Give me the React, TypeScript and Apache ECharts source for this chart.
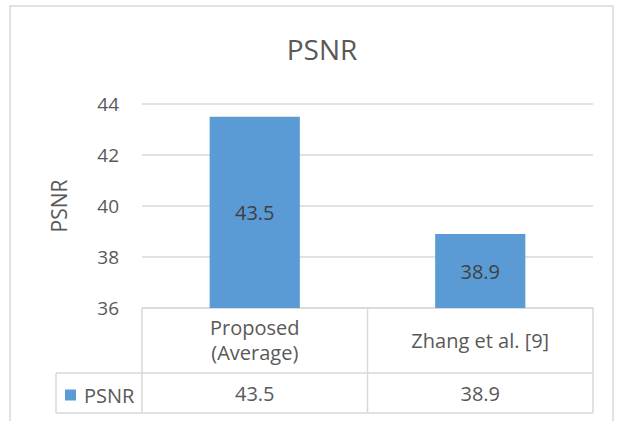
import React, { useEffect, useRef } from "react";
import * as echarts from "echarts";

const categories = ["Proposed\n(Average)", "Zhang et al. [9]"];
const seriesName = "PSNR";
const psnrValues = [43.5, 38.9];
const yTicks = [36, 38, 40, 42, 44];

const W = 622;
const H = 421;
const GRID_LEFT = 142;
const GRID_RIGHT_X = 593;
const GRID_TOP = 104;
const AXIS_Y = 308;
const ROW_Y = 373;
const TABLE_BOTTOM = 413;
const TABLE_LEFT = 56;
const FONT = "'Open Sans', 'Noto Sans', sans-serif";
const LINE = "#D9D9D9";
const TEXT = "#595959";

export default function App() {
  const ref = useRef<HTMLDivElement>(null);
  useEffect(() => {
    if (!ref.current) return;
    const chart = echarts.init(ref.current, undefined, { renderer: "svg", width: W, height: H });
    const colW = (GRID_RIGHT_X - GRID_LEFT) / categories.length;
    const tableLines: any[] = [];
    for (let i = 0; i <= categories.length; i++) {
      const x = GRID_LEFT + i * colW;
      tableLines.push({
        type: "line",
        shape: { x1: x, y1: AXIS_Y, x2: x, y2: TABLE_BOTTOM },
        style: { stroke: LINE, lineWidth: 1.5 },
      });
    }
    tableLines.push(
      { type: "line", shape: { x1: TABLE_LEFT, y1: ROW_Y, x2: GRID_RIGHT_X, y2: ROW_Y }, style: { stroke: LINE, lineWidth: 1.5 } },
      { type: "line", shape: { x1: TABLE_LEFT, y1: TABLE_BOTTOM, x2: GRID_RIGHT_X, y2: TABLE_BOTTOM }, style: { stroke: LINE, lineWidth: 1.5 } },
      { type: "line", shape: { x1: TABLE_LEFT, y1: ROW_Y, x2: TABLE_LEFT, y2: TABLE_BOTTOM }, style: { stroke: LINE, lineWidth: 1.5 } },
      { type: "rect", shape: { x: 10, y: 6, width: 603, height: 440 }, style: { fill: "none", stroke: LINE, lineWidth: 1.5 }, z: -1 }
    );
    chart.setOption({
      animation: false,
      backgroundColor: "#ffffff",
      title: {
        text: "PSNR",
        left: 317,
        top: 30,
        textAlign: "center",
        textStyle: { fontFamily: FONT, fontSize: 28, fontWeight: "normal", color: TEXT },
      },
      legend: {
        data: [seriesName],
        left: 60,
        top: 380,
        icon: "rect",
        itemWidth: 11,
        itemHeight: 11,
        itemGap: 0,
        textStyle: { fontFamily: FONT, fontSize: 20, color: TEXT, padding: [0, 0, 0, 3] },
      },
      grid: {
        left: GRID_LEFT,
        right: W - GRID_RIGHT_X,
        top: GRID_TOP,
        bottom: H - AXIS_Y,
        containLabel: false,
      },
      xAxis: [
        {
          type: "category",
          data: categories,
          axisLine: { show: true, lineStyle: { color: LINE, width: 1.5 } },
          axisTick: { show: false },
          axisLabel: {
            margin: 32,
            verticalAlign: "middle",
            fontFamily: FONT,
            fontSize: 20,
            lineHeight: 25,
            color: TEXT,
          },
        },
        {
          type: "category",
          position: "bottom",
          offset: ROW_Y - AXIS_Y,
          data: psnrValues.map((v) => v.toFixed(1)),
          axisLine: { show: false },
          axisTick: { show: false },
          axisLabel: {
            margin: 20,
            verticalAlign: "middle",
            fontFamily: FONT,
            fontSize: 20,
            color: TEXT,
          },
        },
      ],
      yAxis: {
        type: "value",
        min: yTicks[0],
        max: yTicks[yTicks.length - 1],
        interval: 2,
        name: "PSNR",
        nameLocation: "middle",
        nameRotate: 90,
        nameGap: 73,
        nameTextStyle: { fontFamily: FONT, fontSize: 21, color: TEXT },
        axisLine: { show: false },
        axisTick: { show: false },
        axisLabel: { margin: 23, fontFamily: FONT, fontSize: 19, color: TEXT },
        splitLine: { lineStyle: { color: LINE, width: 1.5 } },
      },
      series: [
        {
          name: seriesName,
          type: "bar",
          xAxisIndex: 0,
          data: psnrValues,
          barWidth: "40%",
          itemStyle: { color: "#5B9BD5" },
          label: {
            show: true,
            position: "inside",
            formatter: (p: any) => Number(p.value).toFixed(1),
            fontFamily: FONT,
            fontSize: 20,
            color: "#404040",
          },
        },
      ],
      graphic: tableLines,
    });
    return () => chart.dispose();
  }, []);
  return (
    <div
      ref={ref}
      style={{ position: "fixed", left: 0, top: 0, width: W, height: H, background: "#fff" }}
    />
  );
}
